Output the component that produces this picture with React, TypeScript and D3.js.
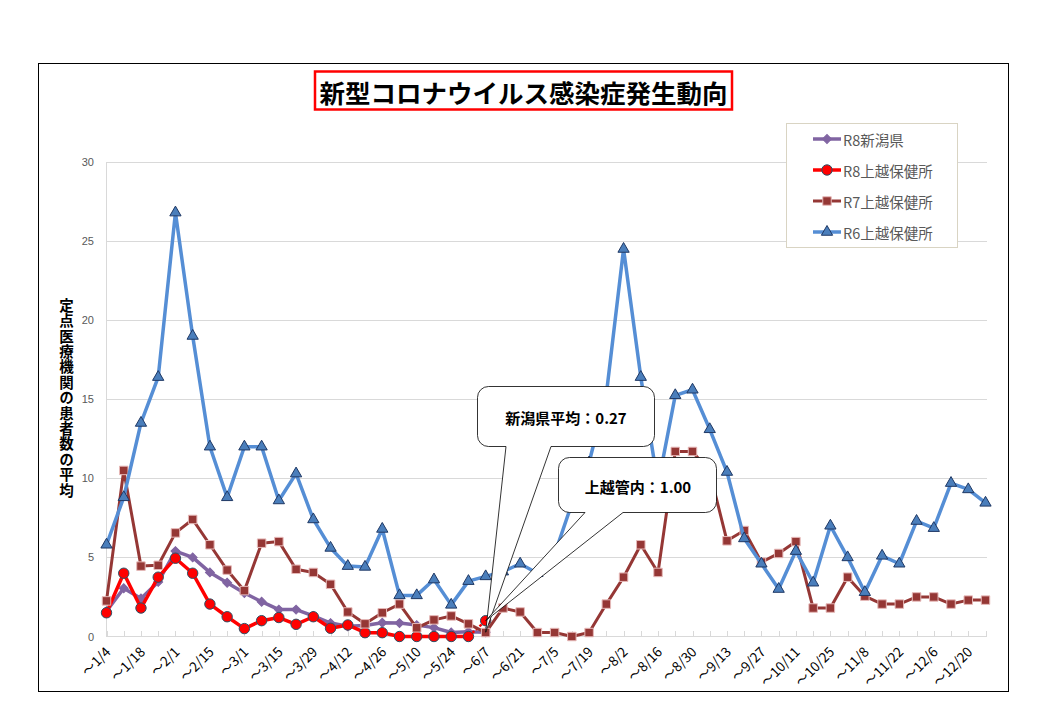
import React from "react";
import * as d3 from "d3";

// weekly periods (end date of each week)
const weeks = [
  "1/4", "1/11", "1/18", "1/25", "2/1", "2/8", "2/15", "2/22", "3/1", "3/8",
  "3/15", "3/22", "3/29", "4/5", "4/12", "4/19", "4/26", "5/3", "5/10", "5/17",
  "5/24", "5/31", "6/7", "6/14", "6/21", "6/28", "7/5", "7/12", "7/19", "7/26",
  "8/2", "8/9", "8/16", "8/23", "8/30", "9/6", "9/13", "9/20", "9/27", "10/4",
  "10/11", "10/18", "10/25", "11/1", "11/8", "11/15", "11/22", "11/29", "12/6", "12/13",
  "12/20", "12/27",
];

const r6Joetsu = [
  5.8, 8.8, 13.5, 16.4, 26.8, 19.0, 12.0, 8.8, 12.0, 12.0,
  8.6, 10.3, 7.4, 5.6, 4.45, 4.4, 6.8, 2.6, 2.6, 3.6,
  2.0, 3.5, 3.8, 4.1, 4.6, 4.0, 5.2, 8.4, 11.0, 15.3,
  24.5, 16.4, 9.6, 15.25, 15.6, 13.1, 10.4, 6.2, 4.6, 3.0,
  5.4, 3.4, 7.0, 5.0, 2.8, 5.1, 4.6, 7.3, 6.85, 9.7,
  9.3, 8.45,
];

const r7Joetsu = [
  2.25, 10.5, 4.45, 4.5, 6.55, 7.4, 5.8, 4.2, 2.9, 5.9,
  6.0, 4.25, 4.05, 3.3, 1.55, 0.8, 1.5, 2.05, 0.55, 1.05,
  1.3, 0.8, 0.25, 1.8, 1.55, 0.25, 0.25, 0.0, 0.25, 2.05,
  3.75, 5.8, 4.05, 11.7, 11.7, 10.4, 6.05, 6.7, 4.7, 5.25,
  6.0, 1.8, 1.8, 3.75, 2.55, 2.05, 2.05, 2.5, 2.5, 2.05,
  2.3, 2.3,
];

const r8Niigata = [
  1.6, 3.05, 2.4, 3.45, 5.4, 5.0, 4.05, 3.4, 2.75, 2.2,
  1.7, 1.7, 1.3, 0.85, 0.65, 0.7, 0.87, 0.85, 0.72, 0.56,
  0.25, 0.3, 0.27,
];

const r8Joetsu = [
  1.5, 4.0, 1.8, 3.75, 4.95, 4.0, 2.05, 1.25, 0.5, 1.0,
  1.2, 0.77, 1.25, 0.52, 0.73, 0.24, 0.24, 0, 0, 0,
  0, 0, 1.0,
];

const yTicks = [0, 5, 10, 15, 20, 25, 30];
const yTitle = "定点医療機関の患者数の平均";

const JP = '"Noto Sans CJK JP", "Noto Sans", sans-serif';

type Series = {
  name: string;
  values: number[];
  line: string;
  width: number;
  symbol: d3.SymbolType;
  size: number;
  fill: string;
  stroke: string;
  rotate?: number;
};

const series: Series[] = [
  { name: "R8新潟県", values: r8Niigata, line: "#8064A2", width: 3.5, symbol: d3.symbolSquare, size: 40, fill: "#8064A2", stroke: "#8064A2", rotate: 45 },
  { name: "R8上越保健所", values: r8Joetsu, line: "#FF0000", width: 3.5, symbol: d3.symbolCircle, size: 85, fill: "#FF0000", stroke: "#2B5166" },
  { name: "R7上越保健所", values: r7Joetsu, line: "#953735", width: 3, symbol: d3.symbolSquare, size: 72, fill: "#953735", stroke: "#E6B9B8" },
  { name: "R6上越保健所", values: r6Joetsu, line: "#558ED5", width: 3.5, symbol: d3.symbolTriangle, size: 55, fill: "#4A7EBB", stroke: "#1F3864" },
];

const x = d3.scalePoint<string>().domain(weeks).range([106.5, 985.5]);
const y = d3.scaleLinear().domain([0, 30]).range([636.5, 162]);

// rounded box with a pointer wedge on its bottom edge
function calloutPath(x0: number, y0: number, x1: number, y1: number, r: number, b0: number, b1: number, tx: number, ty: number) {
  const p = d3.path();
  p.moveTo(x0 + r, y0);
  p.lineTo(x1 - r, y0);
  p.arcTo(x1, y0, x1, y0 + r, r);
  p.lineTo(x1, y1 - r);
  p.arcTo(x1, y1, x1 - r, y1, r);
  p.lineTo(b1, y1);
  p.lineTo(tx, ty);
  p.lineTo(b0, y1);
  p.lineTo(x0 + r, y1);
  p.arcTo(x0, y1, x0, y1 - r, r);
  p.lineTo(x0, y0 + r);
  p.arcTo(x0, y0, x0 + r, y0, r);
  p.closePath();
  return p.toString();
}

function Chart() {
  const line = d3
    .line<number>()
    .x((_, i) => x(weeks[i]) as number)
    .y((d) => y(d));

  const lastIdx = r8Joetsu.length - 1;
  const niigataLast = r8Niigata[r8Niigata.length - 1];
  const joetsuLast = r8Joetsu[lastIdx];
  const tipX = x(weeks[lastIdx]) as number;

  return (
    <svg width={1055} height={719} style={{ position: "absolute", left: 0, top: 0, background: "#fff" }}>
      <rect x={38.5} y={63.5} width={970} height={628} fill="#fff" stroke="#000" strokeWidth={1} />

      {/* title */}
      <rect x={315} y={71.5} width={417} height={38} fill="#fff" stroke="#FF0000" strokeWidth={2.5} />
      <text x={523.5} y={91} textAnchor="middle" dominantBaseline="central" fontFamily={JP} fontWeight={700} fontSize={25.5} fill="#000">
        新型コロナウイルス感染症発生動向
      </text>

      {/* grid + y axis labels */}
      {yTicks.map((t) => (
        <g key={t}>
          {t > 0 && <line x1={106.5} x2={987} y1={Math.round(y(t)) + 0.5} y2={Math.round(y(t)) + 0.5} stroke="#D9D9D9" strokeWidth={1} />}
          <text x={94} y={y(t)} textAnchor="end" dominantBaseline="central" fontFamily='"Liberation Sans", Arial, sans-serif' fontSize={11} fill="#595959">
            {t}
          </text>
        </g>
      ))}
      <line x1={106.5} x2={106.5} y1={162} y2={637} stroke="#D9D9D9" />
      <line x1={106.5} x2={987} y1={636.5} y2={636.5} stroke="#D9D9D9" />
      {weeks.map((w) => (
        <line key={w} x1={Math.round(x(w) as number) + 0.5} x2={Math.round(x(w) as number) + 0.5} y1={631} y2={636.5} stroke="#D9D9D9" />
      ))}
      {weeks.map((w, i) =>
        i % 2 === 0 ? (
          <text
            key={"l" + w}
            transform={`translate(${(x(w) as number) + 5},${653}) rotate(-45)`}
            textAnchor="end"
            fontFamily={JP}
            fontSize={13.5}
            fill="#000"
          >
            {"～" + w}
          </text>
        ) : null
      )}

      {/* y axis title, vertical writing */}
      <text
        x={66.5}
        y={298}
        writingMode="vertical-rl"
        fontFamily={JP}
        fontWeight={600}
        fontSize={14.5}
        letterSpacing={0.9}
        fill="#000"
        style={{ textOrientation: "upright" } as React.CSSProperties}
      >
        {yTitle}
      </text>

      {/* series */}
      {series.map((s) => {
        const solid = s.name === "R8上越保健所" ? s.values.slice(0, lastIdx) : s.values;
        return (
          <g key={s.name}>
            <path d={line(solid) ?? ""} fill="none" stroke={s.line} strokeWidth={s.width} strokeLinejoin="round" />
            {s.name === "R8上越保健所" && (
              <path
                d={`M${x(weeks[lastIdx - 1])},${y(s.values[lastIdx - 1])}L${x(weeks[lastIdx])},${y(s.values[lastIdx])}`}
                stroke={s.line}
                strokeWidth={2.5}
                strokeDasharray="3,2"
                fill="none"
              />
            )}
            {s.values.map((v, i) => (
              <path
                key={i}
                d={d3.symbol().type(s.symbol).size(s.size)() ?? ""}
                transform={`translate(${x(weeks[i])},${y(v)})${s.rotate ? ` rotate(${s.rotate})` : ""}`}
                fill={s.fill}
                stroke={s.stroke}
                strokeWidth={1}
              />
            ))}
          </g>
        );
      })}

      {/* callouts */}
      <path d={calloutPath(477.5, 386.5, 654.5, 446.5, 11, 506, 551, tipX, y(niigataLast))} fill="#fff" stroke="#000" strokeWidth={0.8} />
      <text x={566} y={417} textAnchor="middle" dominantBaseline="central" fontFamily={JP} fontWeight={700} fontSize={15} fill="#000">
        {"新潟県平均：" + niigataLast.toFixed(2)}
      </text>
      <path d={calloutPath(558.5, 457.5, 716.5, 512.5, 11, 585, 623, tipX, y(joetsuLast))} fill="#fff" stroke="#000" strokeWidth={0.8} />
      <text x={638} y={486} textAnchor="middle" dominantBaseline="central" fontFamily={JP} fontWeight={700} fontSize={15} fill="#000">
        {"上越管内：" + joetsuLast.toFixed(2)}
      </text>

      {/* legend */}
      <rect x={786.5} y={123.5} width={171} height={124} fill="#fff" stroke="#D9D4C3" />
      {series.map((s, i) => {
        const ly = 139 + i * 31;
        return (
          <g key={"lg" + s.name}>
            <line x1={813} x2={841} y1={ly} y2={ly} stroke={s.line} strokeWidth={s.width} />
            <path
              d={d3.symbol().type(s.symbol).size(s.size)() ?? ""}
              transform={`translate(827,${ly})${s.rotate ? ` rotate(${s.rotate})` : ""}`}
              fill={s.fill}
              stroke={s.stroke}
            />
            <text x={843} y={ly} dominantBaseline="central" fontFamily={JP} fontSize={14.5} fill="#595959">
              {s.name}
            </text>
          </g>
        );
      })}
    </svg>
  );
}

export default function App() {
  return <Chart />;
}
